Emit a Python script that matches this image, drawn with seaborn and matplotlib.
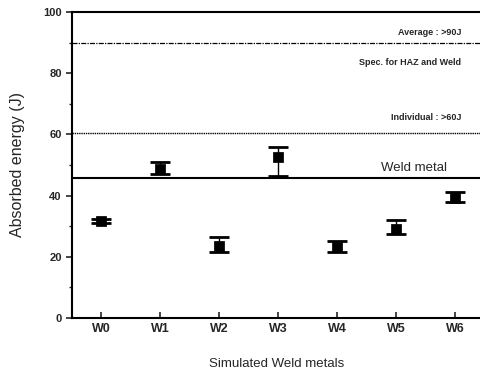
"""Absorbed energy of simulated weld metals with spec limits."""

import matplotlib

matplotlib.use("Agg")
import matplotlib.pyplot as plt
import pandas as pd
import seaborn as sns
from matplotlib.ticker import MultipleLocator

SAMPLES = ["W0", "W1", "W2", "W3", "W4", "W5", "W6"]
ENERGY = [31.7, 48.7, 23.5, 52.5, 23.3, 29.0, 39.3]
ERR_LOW = [0.6, 1.8, 1.9, 6.1, 1.7, 1.5, 1.3]
ERR_HIGH = [0.6, 2.1, 3.1, 3.5, 1.9, 3.0, 1.7]

AVERAGE_SPEC = 90
INDIVIDUAL_SPEC = 60.3
WELD_METAL = 45.7


def main() -> None:
    sns.set_style("ticks")
    plt.rcParams["font.family"] = ["Liberation Sans", "DejaVu Sans"]

    df = pd.DataFrame({"sample": SAMPLES, "energy": ENERGY})
    df["x"] = range(len(SAMPLES))

    fig = plt.figure(figsize=(4.81, 3.74), dpi=100)
    ax = fig.add_axes([0.15, 0.15, 0.85, 0.818])

    ax.errorbar(df["x"], df["energy"], yerr=[ERR_LOW, ERR_HIGH], fmt="none",
                ecolor="black", elinewidth=1.0, capsize=7, capthick=2, zorder=3)
    sns.scatterplot(data=df, x="x", y="energy", marker="s", s=45, color="black",
                    edgecolor="black", ax=ax, zorder=4)

    ax.axhline(AVERAGE_SPEC, color="black", lw=0.9, ls=(0, (4, 1, 1, 1)))
    ax.axhline(INDIVIDUAL_SPEC, color="black", lw=1.0, ls=(0, (1, 0.6)))
    ax.axhline(WELD_METAL, color="black", lw=1.5, ls="-")

    ax.text(6.1, 93.2, "Average : >90J", ha="right", va="center", fontsize=6.5,
            fontweight="bold")
    ax.text(6.1, 83.6, "Spec. for HAZ and Weld", ha="right", va="center",
            fontsize=6.5, fontweight="bold")
    ax.text(6.1, 65.4, "Individual : >60J", ha="right", va="center", fontsize=6.5,
            fontweight="bold")
    ax.text(5.3, 49.0, "Weld metal", ha="center", va="center", fontsize=9.5)

    ax.set_xlim(-0.49, 6.44)
    ax.set_ylim(0, 100)
    ax.set_xticks(df["x"], SAMPLES)
    ax.yaxis.set_major_locator(MultipleLocator(20))
    ax.yaxis.set_minor_locator(MultipleLocator(10))
    ax.tick_params(axis="y", which="major", direction="out", length=4, width=1.2,
                   labelsize=8)
    ax.tick_params(axis="y", which="minor", direction="out", length=2, width=1)
    ax.tick_params(axis="x", direction="in", length=4, width=1.2, labelsize=9)
    for label in ax.get_yticklabels() + ax.get_xticklabels():
        label.set_fontweight("bold")

    ax.set_xlabel("Simulated Weld metals", fontsize=9.5, labelpad=17)
    ax.set_ylabel("Absorbed energy (J)", fontsize=11.5, labelpad=13)

    for side in ["left", "bottom", "top"]:
        ax.spines[side].set_linewidth(1.5)
        ax.spines[side].set_color("black")
    ax.spines["right"].set_visible(False)

    fig.savefig("out.png", dpi=100)
    plt.close(fig)


if __name__ == "__main__":
    main()
